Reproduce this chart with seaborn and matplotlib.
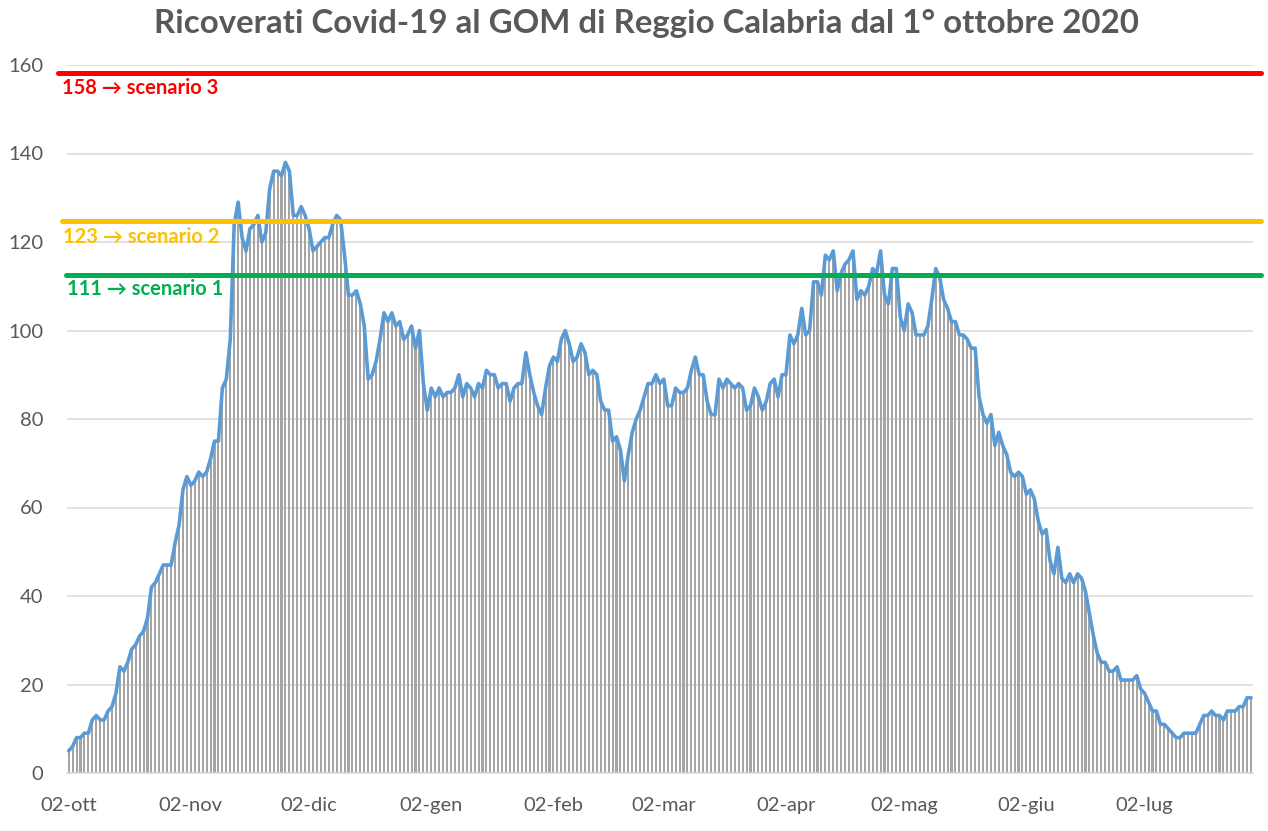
import numpy as np
import pandas as pd
import matplotlib
matplotlib.use("Agg")
import matplotlib.pyplot as plt
import seaborn as sns

# ---------------- data ----------------
start_date = "2020-10-02"
ricoverati = [
    5, 6, 8, 8, 9, 9, 12, 13, 12, 12,
    14, 15, 18, 24, 23, 25, 28, 29, 31, 32,
    35, 42, 43, 45, 47, 47, 47, 52, 56, 64,
    67, 65, 66, 68, 67, 68, 71, 75, 75, 87,
    89, 98, 124, 129, 121, 118, 123, 124, 126, 120,
    122, 132, 136, 136, 135, 138, 136, 126, 126, 128,
    126, 123, 118, 119, 120, 121, 121, 124, 126, 125,
    117, 108, 108, 109, 106, 101, 89, 90, 93, 98,
    104, 102, 104, 101, 102, 98, 99, 101, 96, 100,
    88, 82, 87, 85, 87, 85, 86, 86, 87, 90,
    85, 88, 87, 85, 88, 87, 91, 90, 90, 87,
    88, 88, 84, 87, 88, 88, 95, 90, 86, 83,
    81, 87, 92, 94, 93, 98, 100, 97, 93, 94,
    97, 95, 90, 91, 90, 84, 82, 82, 75, 76,
    73, 66, 72, 77, 80, 82, 85, 88, 88, 90,
    88, 89, 83, 83, 87, 86, 86, 87, 91, 94,
    90, 90, 84, 81, 81, 89, 87, 89, 88, 87,
    88, 87, 82, 83, 87, 85, 82, 84, 88, 89,
    85, 90, 90, 99, 97, 99, 105, 99, 100, 111,
    111, 108, 117, 116, 118, 109, 113, 115, 116, 118,
    107, 109, 108, 110, 114, 113, 118, 108, 106, 114,
    114, 103, 100, 106, 104, 99, 99, 99, 101, 107,
    114, 112, 107, 105, 102, 102, 99, 99, 98, 96,
    96, 85, 81, 79, 81, 74, 77, 74, 72, 68,
    67, 68, 67, 63, 64, 62, 57, 54, 55, 48,
    45, 51, 44, 43, 45, 43, 45, 44, 41, 36,
    31, 27, 25, 25, 23, 23, 24, 21, 21, 21,
    21, 22, 19, 18, 16, 14, 14, 11, 11, 10,
    9, 8, 8, 9, 9, 9, 9, 11, 13, 13,
    14, 13, 13, 12, 14, 14, 14, 15, 15, 17,
    17,
]
tick_dates = ["2020-10-02", "2020-11-02", "2020-12-02", "2021-01-02", "2021-02-02",
              "2021-03-02", "2021-04-02", "2021-05-02", "2021-06-02", "2021-07-02"]
tick_labels = ["02-ott", "02-nov", "02-dic", "02-gen", "02-feb",
               "02-mar", "02-apr", "02-mag", "02-giu", "02-lug"]
y_ticks = [0, 20, 40, 60, 80, 100, 120, 140, 160]
scenario_labels = ["158 \u2192 scenario 3", "123 \u2192 scenario 2", "111 \u2192 scenario 1"]
scenario_levels = [158.1, 124.7, 112.5]
scenario_colors = ["#FF0000", "#FFC000", "#00B050"]
title = "Ricoverati Covid-19 al GOM di Reggio Calabria dal 1\u00b0 ottobre 2020"

# ---------------- build ----------------
dates = pd.date_range(start_date, periods=len(ricoverati), freq="D")
df = pd.DataFrame({"giorno": np.arange(len(ricoverati)), "ricoverati": ricoverati})

sns.set_style("white")
plt.rcParams["font.family"] = ["Lato", "DejaVu Sans"]

W, H = 1268, 831
fig = plt.figure(figsize=(W / 100, H / 100), dpi=100)
ax = fig.add_axes([66.7 / W, 58 / H, 1186.3 / W, 708 / H])

sns.barplot(data=df, x="giorno", y="ricoverati", color="#A5A5A5", saturation=1,
            width=0.52, errorbar=None, native_scale=True, ax=ax, zorder=2,
            linewidth=0, edgecolor="none")
sns.lineplot(data=df, x="giorno", y="ricoverati", color="#5B9BD5", lw=2.6,
             errorbar=None, ax=ax, zorder=3)

ax.set_xlim(-0.5, len(ricoverati) - 0.5)
ax.set_ylim(0, 160)
ax.set_yticks(y_ticks)
tick_pos = [(pd.Timestamp(d) - dates[0]).days for d in tick_dates]
ax.set_xticks(tick_pos)
ax.set_xticklabels(tick_labels)
ax.set_xlabel("")
ax.set_ylabel("")
ax.tick_params(axis="both", length=0, labelsize=14.5, labelcolor="#595959")
ax.tick_params(axis="y", pad=17)
ax.tick_params(axis="x", pad=17)
ax.yaxis.grid(True, color="#D9D9D9", lw=1.1)
ax.xaxis.grid(False)
ax.set_axisbelow(True)
for side in ["left", "right", "top"]:
    ax.spines[side].set_visible(False)
ax.spines["bottom"].set_color("#D9D9D9")
ax.spines["bottom"].set_linewidth(1.1)

# scenario lines
line_starts = [-0.0073, -0.0037, -0.001]
label_x = [-0.004, -0.003, 0.0]
label_y = [154.8, 121.1, 109.4]
for lvl, col, lab, xs, lx, ly in zip(scenario_levels, scenario_colors, scenario_labels,
                                     line_starts, label_x, label_y):
    ax.axhline(lvl, xmin=xs, xmax=1.007, color=col, lw=3.6, clip_on=False, zorder=5)
    ax.text(lx, ly, lab, transform=ax.get_yaxis_transform(), color=col,
            fontsize=14.5, fontweight="bold", ha="left", va="center", zorder=6)

fig.text(646 / W, 1 - 23 / H, title, ha="center", va="center", fontsize=23.8,
         fontweight="bold", color="#595959")

fig.savefig("out.png", dpi=100, facecolor="white")
